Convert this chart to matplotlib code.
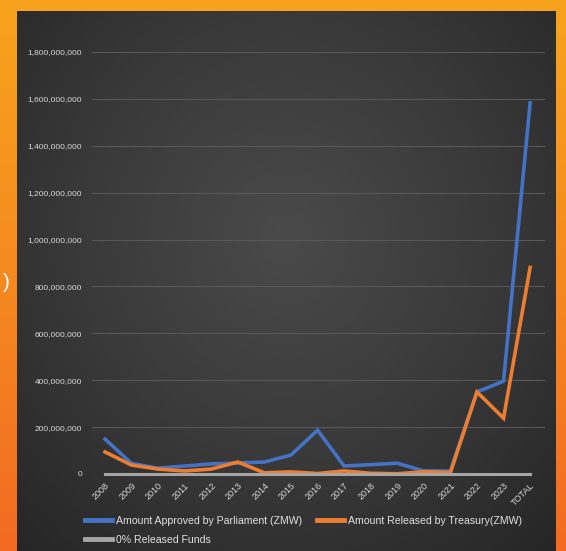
import numpy as np
import matplotlib
matplotlib.use("Agg")
import matplotlib.pyplot as plt
from matplotlib.colors import LinearSegmentedColormap

categories = ["2008", "2009", "2010", "2011", "2012", "2013", "2014", "2015", "2016",
              "2017", "2018", "2019", "2020", "2021", "2022", "2023", "TOTAL"]
approved = [149e6, 45e6, 25e6, 34e6, 43e6, 47e6, 51e6, 81e6, 187e6,
            34e6, 40e6, 46e6, 13e6, 13e6, 350e6, 396e6, 1583e6]
released = [94e6, 38e6, 21e6, 13e6, 21e6, 51e6, 5e6, 9e6, 2e6,
            13e6, 3e6, 1e6, 10e6, 6e6, 350e6, 238e6, 881e6]
zero_released = [0] * 17
series_labels = ["Amount Approved by Parliament (ZMW)",
                 "Amount Released by Treasury(ZMW)",
                 "0% Released Funds"]
ytick_values = [0, 200e6, 400e6, 600e6, 800e6, 1000e6, 1200e6, 1400e6, 1600e6, 1800e6]

FONT = ["Liberation Sans", "DejaVu Sans"]

W, H = 566, 551
fig = plt.figure(figsize=(W / 100, H / 100), dpi=100)

# orange background gradient
bg = fig.add_axes([0, 0, 1, 1])
cmap_bg = LinearSegmentedColormap.from_list("bg", ["#F8A31D", "#F58A20", "#F26A22"])
grad = np.linspace(0, 1, 256).reshape(-1, 1)
bg.imshow(grad, aspect="auto", cmap=cmap_bg, extent=[0, 1, 0, 1], origin="upper")
bg.axis("off")

# dark panel with radial gradient
px0, px1, py_top = 17, 556, 11
panel = fig.add_axes([px0 / W, 0, (px1 - px0) / W, (H - py_top) / H])
yy, xx = np.mgrid[0:1:300j, 0:1:300j]
r = np.sqrt(((xx - 0.5) / 0.75) ** 2 + ((yy - 0.42) / 0.8) ** 2)
cmap_p = LinearSegmentedColormap.from_list("p", ["#4a4a4a", "#3a3a3a", "#262626"])
panel.imshow(np.clip(r, 0, 1), cmap=cmap_p, aspect="auto", extent=[0, 1, 0, 1], origin="upper")
panel.axis("off")

# stray text fragment at left edge
fig.text(3 / W, 1 - 283 / H, ")", color="white", fontsize=15, va="center", ha="left",
         family=FONT)

# main axes
x0, x1, y0, y1 = 92, 545, 474, 52
ax = fig.add_axes([x0 / W, (H - y0) / H, (x1 - x0) / W, (y0 - y1) / H])
ax.patch.set_alpha(0)
x = np.arange(len(categories))
ax.set_xlim(-0.49, 16.56)
ax.set_ylim(0, 1.8e9)
ax.set_yticks(ytick_values)
ax.set_yticklabels([f"{int(v):,}" for v in ytick_values], fontsize=6,
                   color="#d8d8d8", family=FONT)
ax.set_xticks(x)
ax.set_xticklabels(categories, rotation=45, ha="right", rotation_mode="anchor",
                   fontsize=6.5, color="#d8d8d8", family=FONT)
ax.tick_params(length=0, pad=5)
ax.tick_params(axis="y", pad=7)
for s in ax.spines.values():
    s.set_visible(False)
ax.grid(axis="y", color="#585858", linewidth=0.8)
ax.set_axisbelow(True)

l1, = ax.plot(x, approved, color="#4472C4", lw=2.6, solid_joinstyle="miter", clip_on=False)
l2, = ax.plot(x, released, color="#ED7D31", lw=2.6, solid_joinstyle="miter", clip_on=False)
l3, = ax.plot(x, zero_released, color="#A5A5A5", lw=2.2, clip_on=False)

leg = fig.legend([l1, l3, l2], [series_labels[0], series_labels[2], series_labels[1]],
                 ncol=2, loc="upper left", bbox_to_anchor=(85 / W, 1 - 516 / H),
                 frameon=False, prop={"family": FONT, "size": 7.6},
                 handlelength=2.6, handletextpad=0.35, columnspacing=1.4,
                 labelspacing=0.85, labelcolor="#e0e0e0", borderpad=0, borderaxespad=0)
for h in leg.get_lines():
    h.set_linewidth(3.5)

fig.savefig("out.png", dpi=100)
